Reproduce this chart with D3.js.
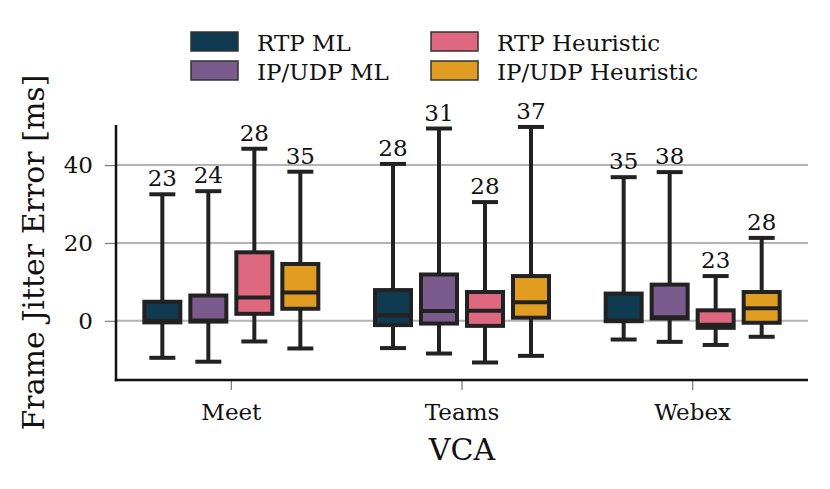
<!DOCTYPE html>
<html>
<head>
<meta charset="utf-8">
<script src="https://cdn.jsdelivr.net/npm/d3@7"></script>
<style>
  body { margin: 0; background: #fff; }
</style>
</head>
<body>
<div id="chart"></div>
<script>
// chart data
const categories = ["Meet", "Teams", "Webex"];
const series = ["RTP ML", "IP/UDP ML", "RTP Heuristic", "IP/UDP Heuristic"];
const colors = ["#0f3a50", "#7b5a8d", "#dd6880", "#e09d22"];
const yTicks = [0, 20, 40];

// one row per category, one value per series
const whiskerLow = [[-9.5, -10.5, -5.3, -7.1], [-7.0, -8.4, -10.7, -9.0], [-4.8, -5.4, -6.2, -4.1]];
const q1 = [[-0.4, -0.2, 1.8, 3.1], [-1.1, -0.7, -1.3, 0.8], [-0.1, 0.6, -1.8, -0.5]];
const median = [[0.0, 0.1, 6.0, 7.3], [1.4, 2.5, 2.6, 4.8], [0.1, 0.9, -1.0, 3.2]];
const q3 = [[4.9, 6.5, 17.6, 14.6], [7.9, 11.9, 7.4, 11.5], [7.0, 9.3, 2.7, 7.4]];
const whiskerHigh = [[32.5, 33.3, 44.2, 38.3], [40.3, 49.4, 30.5, 49.8], [36.9, 38.2, 11.5, 21.3]];
const counts = [[23, 24, 28, 35], [28, 31, 28, 37], [35, 38, 23, 28]];

const width = 830;
const height = 489;
const margin = {left: 116, right: 22, top: 125, bottom: 109};
const font = "'DejaVu Serif', serif";

const svg = d3.select("#chart")
  .append("svg")
  .attr("width", width)
  .attr("height", height);

// scales
const yScale = d3.scaleLinear()
  .domain([-15.2, 50.3])
  .range([height - margin.bottom, margin.top]);

const x0 = d3.scaleBand()
  .domain(categories)
  .range([margin.left, width - margin.right])
  .padding(0);

const x1 = d3.scaleBand()
  .domain(series)
  .range([-92, 92])
  .padding(0);

const boxW = 36;
const capW = 26;
const ink = "#222";

// horizontal grid lines
svg.append("g")
  .selectAll("line")
  .data(yTicks)
  .enter()
  .append("line")
    .attr("x1", margin.left)
    .attr("x2", width - margin.right)
    .attr("y1", d => yScale(d))
    .attr("y2", d => yScale(d))
    .attr("stroke", "#b3b3b3")
    .attr("stroke-width", 2);

// y axis
const yAxis = svg.append("g")
  .attr("transform", `translate(${margin.left},0)`)
  .call(d3.axisLeft(yScale).tickValues(yTicks).tickSize(11).tickPadding(12));
yAxis.select(".domain").remove();
yAxis.selectAll(".tick line").attr("stroke", "#777").attr("stroke-width", 1.2);
yAxis.selectAll(".tick text")
  .style("font-family", font)
  .style("font-size", "23px")
  .attr("fill", "#111");

// x axis
const xAxis = svg.append("g")
  .attr("transform", `translate(0,${height - margin.bottom})`)
  .call(d3.axisBottom(x0).tickSize(10));
xAxis.select(".domain").remove();
xAxis.selectAll(".tick line").attr("stroke", "#777").attr("stroke-width", 1.2);
xAxis.selectAll(".tick text")
  .attr("y", 40)
  .attr("dy", 0)
  .style("font-family", font)
  .style("font-size", "23px")
  .attr("fill", "#111");

// spines
svg.append("line")
  .attr("x1", margin.left).attr("x2", margin.left)
  .attr("y1", margin.top).attr("y2", height - margin.bottom + 1.25)
  .attr("stroke", "#111").attr("stroke-width", 2.5);
svg.append("line")
  .attr("x1", margin.left - 1.25).attr("x2", width - margin.right)
  .attr("y1", height - margin.bottom).attr("y2", height - margin.bottom)
  .attr("stroke", "#111").attr("stroke-width", 2.5);

// flatten for drawing
const boxes = [];
categories.forEach((c, i) => {
  series.forEach((s, j) => {
    boxes.push({
      cat: c, ser: s, color: colors[j],
      lo: whiskerLow[i][j], q1: q1[i][j], med: median[i][j],
      q3: q3[i][j], hi: whiskerHigh[i][j], n: counts[i][j]
    });
  });
});
const cx = d => x0(d.cat) + x0.bandwidth() / 2 + x1(d.ser) + x1.bandwidth() / 2;

const g = svg.append("g")
  .selectAll("g")
  .data(boxes)
  .enter()
  .append("g");

// whiskers
g.append("line")
  .attr("x1", cx).attr("x2", cx)
  .attr("y1", d => yScale(d.hi)).attr("y2", d => yScale(d.lo))
  .attr("stroke", ink).attr("stroke-width", 4);
// caps
g.append("line")
  .attr("x1", d => cx(d) - capW / 2).attr("x2", d => cx(d) + capW / 2)
  .attr("y1", d => yScale(d.hi)).attr("y2", d => yScale(d.hi))
  .attr("stroke", ink).attr("stroke-width", 4);
g.append("line")
  .attr("x1", d => cx(d) - capW / 2).attr("x2", d => cx(d) + capW / 2)
  .attr("y1", d => yScale(d.lo)).attr("y2", d => yScale(d.lo))
  .attr("stroke", ink).attr("stroke-width", 4);
// box
g.append("rect")
  .attr("x", d => cx(d) - boxW / 2)
  .attr("width", boxW)
  .attr("y", d => yScale(d.q3))
  .attr("height", d => yScale(d.q1) - yScale(d.q3))
  .attr("fill", d => d.color)
  .attr("stroke", ink).attr("stroke-width", 4);
// median
g.append("line")
  .attr("x1", d => cx(d) - boxW / 2).attr("x2", d => cx(d) + boxW / 2)
  .attr("y1", d => yScale(d.med)).attr("y2", d => yScale(d.med))
  .attr("stroke", ink).attr("stroke-width", 4);
// sample counts
g.append("text")
  .attr("x", cx)
  .attr("y", d => yScale(d.hi) - 8)
  .attr("text-anchor", "middle")
  .style("font-family", font)
  .style("font-size", "23px")
  .attr("fill", "#111")
  .text(d => d.n);

// axis titles
svg.append("text")
  .attr("x", x0("Teams") + x0.bandwidth() / 2)
  .attr("y", 460)
  .attr("text-anchor", "middle")
  .style("font-family", font)
  .style("font-size", "30px")
  .attr("fill", "#111")
  .text("VCA");
svg.append("text")
  .attr("transform", `translate(44,${(margin.top + height - margin.bottom) / 2}) rotate(-90)`)
  .attr("text-anchor", "middle")
  .style("font-family", font)
  .style("font-size", "30px")
  .attr("fill", "#111")
  .text("Frame Jitter Error [ms]");

// legend, two columns
const legendPos = [[191, 32], [191, 61], [431, 32], [431, 61]];
const legend = svg.append("g")
  .selectAll("g")
  .data(series)
  .enter()
  .append("g")
  .attr("transform", (d, i) => `translate(${legendPos[i][0]},${legendPos[i][1]})`);
legend.append("rect")
  .attr("width", 47).attr("height", 19)
  .attr("fill", (d, i) => colors[i])
  .attr("stroke", "#333").attr("stroke-width", 1.5);
legend.append("text")
  .attr("x", 66).attr("y", 18.5)
  .style("font-family", font)
  .style("font-size", "23px")
  .attr("fill", "#111")
  .text(d => d);
</script>
</body>
</html>
